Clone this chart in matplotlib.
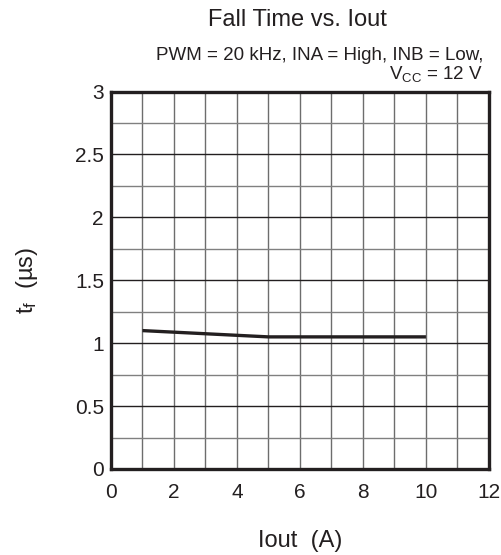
import numpy as np
import matplotlib
matplotlib.use("Agg")
import matplotlib.pyplot as plt

plt.rcParams["font.family"] = ["Liberation Sans", "DejaVu Sans"]
plt.rcParams["mathtext.default"] = "regular"

# Data
iout = [1, 5, 10]
t_fall = [1.10, 1.05, 1.05]

x_ticks = [0, 2, 4, 6, 8, 10, 12]
y_ticks = [0, 0.5, 1, 1.5, 2, 2.5, 3]
y_labels = ["0", "0.5", "1", "1.5", "2", "2.5", "3"]

INK = "#231f20"

fig = plt.figure(figsize=(5.02, 5.55), dpi=100)
ax = fig.add_axes([0.221, 0.155, 0.753, 0.680])

ax.set_xlim(0, 12)
ax.set_ylim(0, 3)

# grid: every 1 A vertically, every 0.25 us horizontally
for xv in np.arange(1, 12):
    ax.axvline(xv, color="#6d6d6d", linewidth=1.0, zorder=1)
for yv in np.arange(0.25, 3, 0.25):
    major = abs(yv * 2 - round(yv * 2)) < 1e-9
    ax.axhline(yv, color=INK if major else "#808080", linewidth=1.0, zorder=1)

ax.plot(iout, t_fall, color=INK, linewidth=2.4, zorder=3, solid_capstyle="butt")

for s in ax.spines.values():
    s.set_linewidth(2.4)
    s.set_color(INK)

ax.set_xticks(x_ticks)
ax.set_yticks(y_ticks)
ax.set_yticklabels(y_labels)
ax.tick_params(length=0, labelsize=15, colors=INK)
ax.tick_params(axis="x", pad=10)
ax.tick_params(axis="y", pad=5)

ax.set_xlabel("Iout  (A)", fontsize=17, color=INK, va="center")
ax.xaxis.set_label_coords(0.5, -0.19)
ax.set_ylabel("t$_f$  (µs)", fontsize=17, color=INK, va="center")
ax.yaxis.set_label_coords(-0.222, 0.5)

fig.text(0.592, 0.964, "Fall Time vs. Iout", ha="center", va="center", fontsize=17, color=INK)
fig.text(0.963, 0.900, "PWM = 20 kHz, INA = High, INB = Low,", ha="right", va="center", fontsize=13.5, color=INK)
fig.text(0.963, 0.867, "V$_{CC}$ = 12 V", ha="right", va="center", fontsize=13.5, color=INK)

fig.savefig("out.png", dpi=100)
